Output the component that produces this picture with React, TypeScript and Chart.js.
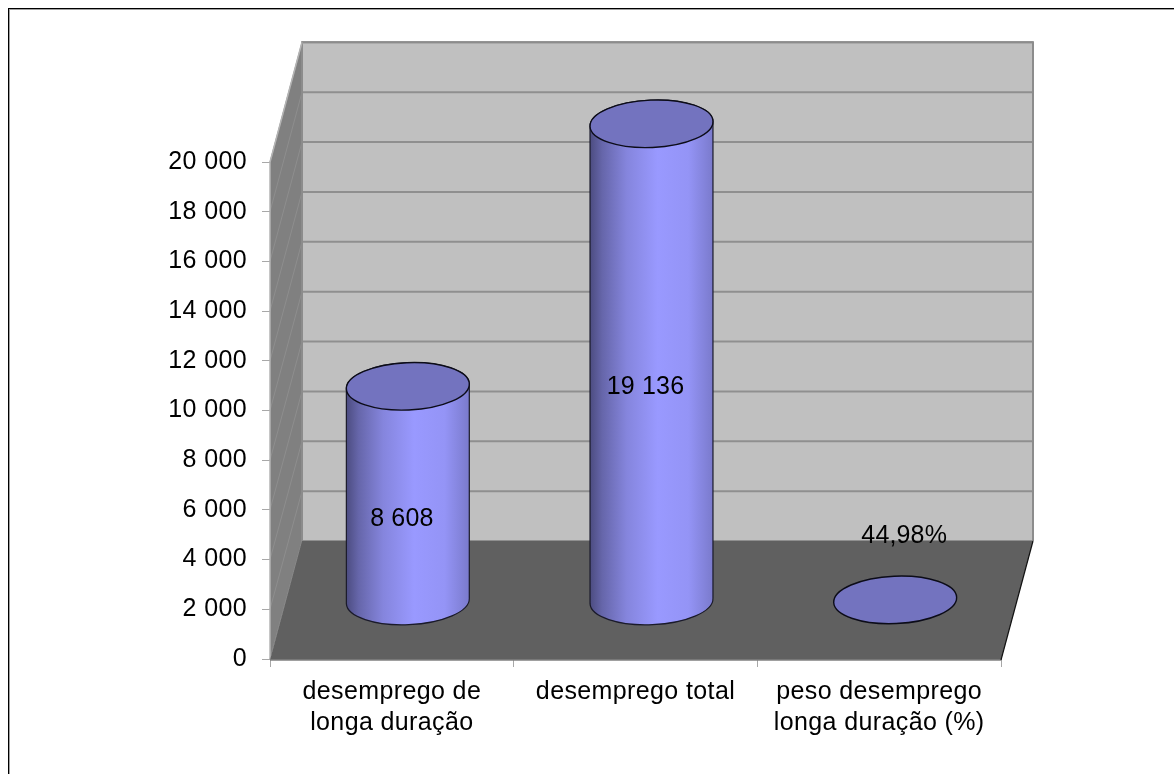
import React, { useEffect, useRef } from "react";
import { Chart, registerables } from "chart.js";

Chart.register(...registerables);

const categories: string[][] = [
  ["desemprego de", "longa duração"],
  ["desemprego total"],
  ["peso desemprego", "longa duração (%)"],
];
const values: number[] = [8608, 19136, 44.98];
const valueLabels: string[] = ["8 608", "19 136", "44,98%"];
const yMax = 20000;
const yStep = 2000;

const FONT = '"Liberation Sans", Arial, sans-serif';
const WALL_DX = 32;
const WALL_DY = 118;
const BAR_DX = 16;
const BAR_DY = 58;
const DEPTH_SCALE = 1.0035;
const TILT = -0.043;

const formatTick = (v: number) =>
  v >= 1000 ? `${Math.floor(v / 1000)} ${String(v % 1000).padStart(3, "0")}` : String(v);

const cylinderPlugin: any = {
  id: "cylinder3d",
  beforeDraw(chart: any) {
    const { ctx, width, height } = chart;
    ctx.save();
    ctx.fillStyle = "#ffffff";
    ctx.fillRect(0, 0, width, height);
    ctx.fillStyle = "#000000";
    ctx.fillRect(8, 8, width - 8, 1);
    ctx.fillRect(8, 8, 1, height - 8);
    ctx.fillStyle = "#a0a0a0";
    ctx.fillRect(9, 9, width - 9, 1);
    ctx.fillRect(9, 9, 1, height - 9);
    ctx.restore();
    ctx.letterSpacing = "0.38px";
  },
  beforeDatasetsDraw(chart: any) {
    const { ctx, chartArea, scales } = chart;
    const y = scales.y;
    const { left, right } = chartArea;
    const y0 = y.getPixelForValue(0);
    const backY = (v: number) => y0 - WALL_DY - (y0 - y.getPixelForValue(v)) * DEPTH_SCALE;
    const bl = left + WALL_DX;
    const br = right + WALL_DX;
    const top = backY(yMax);
    const bot = backY(0);
    const frontTop = y.getPixelForValue(yMax);
    ctx.save();
    // back wall
    ctx.fillStyle = "#c0c0c0";
    ctx.fillRect(bl, top, br - bl, bot - top);
    // side wall
    ctx.fillStyle = "#808080";
    ctx.beginPath();
    ctx.moveTo(left, frontTop);
    ctx.lineTo(bl, top);
    ctx.lineTo(bl, bot);
    ctx.lineTo(left, y0 + 1);
    ctx.closePath();
    ctx.fill();
    // grid
    for (const t of y.ticks) {
      const by = backY(t.value);
      ctx.strokeStyle = "#8f8f8f";
      ctx.lineWidth = 2;
      ctx.beginPath();
      ctx.moveTo(bl, by);
      ctx.lineTo(br, by);
      ctx.stroke();
      ctx.strokeStyle = "#8e8e8e";
      ctx.lineWidth = 1;
      ctx.beginPath();
      ctx.moveTo(left, y.getPixelForValue(t.value));
      ctx.lineTo(bl, by);
      ctx.stroke();
    }
    // wall outlines
    ctx.strokeStyle = "#8c8c8c";
    ctx.lineWidth = 2;
    ctx.beginPath();
    ctx.moveTo(bl, bot);
    ctx.lineTo(bl, top);
    ctx.lineTo(br, top);
    ctx.lineTo(br, bot);
    ctx.stroke();
    ctx.strokeStyle = "#b4b4b4";
    ctx.lineWidth = 1.5;
    ctx.beginPath();
    ctx.moveTo(left, y0);
    ctx.lineTo(left, frontTop);
    ctx.lineTo(bl, top);
    ctx.stroke();
    // floor
    ctx.fillStyle = "#606060";
    ctx.beginPath();
    ctx.moveTo(left, y0 + 1);
    ctx.lineTo(bl, bot);
    ctx.lineTo(br, bot);
    ctx.lineTo(right, y0 + 1);
    ctx.closePath();
    ctx.fill();
    ctx.strokeStyle = "#808080";
    ctx.lineWidth = 1.4;
    ctx.beginPath();
    ctx.moveTo(left, y0 + 1);
    ctx.lineTo(right, y0 + 1);
    ctx.stroke();
    ctx.strokeStyle = "#111111";
    ctx.lineWidth = 1.2;
    ctx.beginPath();
    ctx.moveTo(br, bot);
    ctx.lineTo(right, y0 + 1);
    ctx.stroke();
    ctx.restore();
  },
  beforeDatasetDraw(chart: any, args: any) {
    const { ctx, scales } = chart;
    const y = scales.y;
    const y0 = y.getPixelForValue(0);
    const meta = chart.getDatasetMeta(args.index);
    const cosT = Math.cos(TILT);
    const sinT = Math.sin(TILT);
    ctx.save();
    for (const el of meta.data) {
      const rx = el.width / 2;
      const ry = rx * 0.385;
      const cx = el.x + BAR_DX;
      const by = y0 - BAR_DY;
      const ty = by - (y0 - el.y) * DEPTH_SCALE;
      const ex = rx * cosT;
      const ey = rx * sinT;
      if (by - ty > 3) {
        const grad = ctx.createLinearGradient(cx - rx, 0, cx + rx, 0);
        grad.addColorStop(0, "#4c4c80");
        grad.addColorStop(0.1, "#6666aa");
        grad.addColorStop(0.3, "#8585dd");
        grad.addColorStop(0.55, "#9999ff");
        grad.addColorStop(0.8, "#9494f6");
        grad.addColorStop(1, "#7a7acc");
        ctx.beginPath();
        ctx.moveTo(cx - ex, ty - ey);
        ctx.lineTo(cx - ex, by - ey);
        ctx.ellipse(cx, by, rx, ry, TILT, Math.PI, 0, true);
        ctx.lineTo(cx + ex, ty + ey);
        ctx.ellipse(cx, ty, rx, ry, TILT, 0, Math.PI, true);
        ctx.closePath();
        ctx.fillStyle = grad;
        ctx.fill();
        ctx.strokeStyle = "#1a1a2a";
        ctx.lineWidth = 1.2;
        ctx.stroke();
      }
      ctx.beginPath();
      ctx.ellipse(cx, ty, rx, ry, TILT, 0, Math.PI * 2);
      ctx.fillStyle = "#7373bf";
      ctx.fill();
      ctx.strokeStyle = "#0c0c18";
      ctx.lineWidth = 1.4;
      ctx.stroke();
    }
    ctx.restore();
    return false;
  },
  afterDatasetsDraw(chart: any) {
    const { ctx, scales } = chart;
    const y = scales.y;
    const y0 = y.getPixelForValue(0);
    const meta = chart.getDatasetMeta(0);
    ctx.save();
    ctx.font = `25px ${FONT}`;
    ctx.letterSpacing = "0.15px";
    ctx.fillStyle = "#000000";
    ctx.textAlign = "center";
    ctx.textBaseline = "middle";
    meta.data.forEach((el: any, i: number) => {
      const by = y0 - BAR_DY;
      const tall = y0 - el.y > 40;
      const ly = tall ? by - (y0 - el.y) * DEPTH_SCALE / 2 + 25 : by - 65;
      const lx = el.x + (tall ? BAR_DX - 6 : BAR_DX + 9);
      ctx.fillText(valueLabels[i], lx, ly);
    });
    ctx.restore();
  },
};

export default function App() {
  const ref = useRef<HTMLCanvasElement | null>(null);
  useEffect(() => {
    if (!ref.current) return;
    const chart = new Chart(ref.current, {
      type: "bar",
      data: {
        labels: categories,
        datasets: [
          {
            label: "desemprego",
            data: values,
            backgroundColor: "#9999ff",
            borderColor: "#000000",
            barPercentage: 0.505,
            categoryPercentage: 1,
          },
        ],
      },
      plugins: [cylinderPlugin],
      options: {
        animation: false,
        responsive: false,
        layout: { padding: { top: 162, right: 173, left: 0, bottom: 0 } },
        plugins: {
          legend: { display: false },
          title: { display: false },
          tooltip: { enabled: false },
        },
        scales: {
          x: {
            afterFit: (s: any) => {
              s.height = 115;
            },
            grid: { drawOnChartArea: false, drawTicks: true, tickLength: 8, tickColor: "#a8a8a8", offset: true },
            border: { display: false },
            ticks: {
              color: "#000000",
              font: { family: FONT, size: 25, lineHeight: 1.24 },
              padding: 10,
              maxRotation: 0,
              autoSkip: false,
            },
          },
          y: {
            min: 0,
            max: yMax,
            afterFit: (s: any) => {
              s.width = 270;
            },
            grid: { drawOnChartArea: false, drawTicks: true, tickLength: 8, tickColor: "#a8a8a8" },
            border: { display: false },
            ticks: {
              stepSize: yStep,
              color: "#000000",
              font: { family: FONT, size: 25 },
              padding: 15,
              callback: (v: any) => formatTick(Number(v)),
            },
          },
        },
      },
    } as any);
    return () => chart.destroy();
  }, []);
  return (
    <canvas
      ref={ref}
      width={1174}
      height={774}
      style={{ position: "fixed", left: 0, top: 0, width: 1174, height: 774, filter: "blur(0.5px)" }}
    />
  );
}
